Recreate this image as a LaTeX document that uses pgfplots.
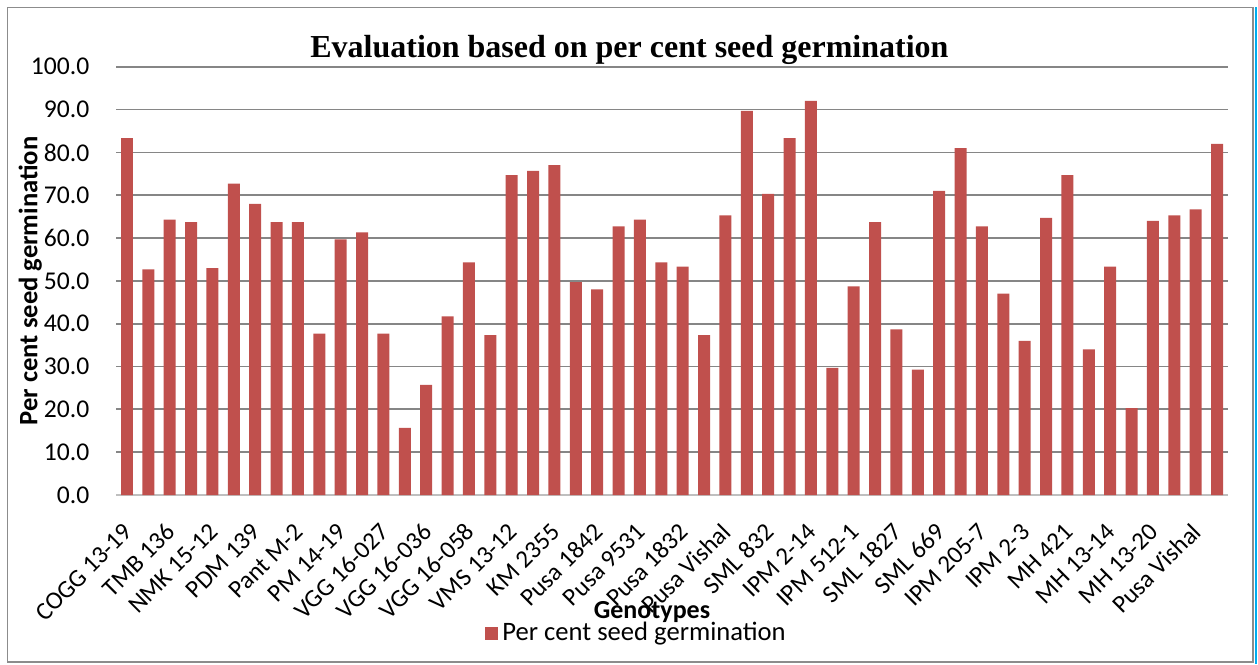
\documentclass[border=0pt]{standalone}
\usepackage{fontspec}
\setmainfont{Carlito}
\newfontfamily\titlefont{Liberation Serif}
\usepackage{pgfplots}
\pgfplotsset{compat=1.18}
\definecolor{barred}{HTML}{C0504D}
\definecolor{gridgray}{HTML}{868686}
\definecolor{framegray}{HTML}{8C8C8C}
\definecolor{axgray}{HTML}{BFBFBF}
\begin{document}
\begin{tikzpicture}
\useasboundingbox (0pt,0pt) rectangle (629pt,-332pt);
\draw[framegray, line width=0.8pt] (3.75pt,-3.75pt) rectangle (626.5pt,-331pt);
\draw[cyan, line width=1.2pt] (628pt,-3.5pt) -- (628pt,-332pt);
\begin{axis}[
  at={(58.15pt,-247.5pt)}, anchor=south west,
  scale only axis, width=555.7pt, height=214.15pt,
  xmin=-0.5, xmax=51.5, ymin=0, ymax=100,
  ybar, bar width=0.56, bar shift=0pt,
  ytick={0,10,...,100},
  yticklabel={\pgfmathprintnumber[fixed,fixed zerofill,precision=1]{\tick}},
  /pgf/number format/assume math mode=true,
  xtick={0,2,...,50},
  xticklabels={COGG 13-19,TMB 136,NMK 15-12,PDM 139,Pant M-2,PM 14-19,VGG 16-027,VGG 16-036,VGG 16-058,VMS 13-12,KM 2355,Pusa 1842,Pusa 9531,Pusa 1832,Pusa Vishal,SML 832,IPM 2-14,IPM 512-1,SML 1827,SML 669,IPM 205-7,IPM 2-3,MH 421,MH 13-14,MH 13-20,Pusa Vishal},
  x tick label style={yshift=-14pt, xshift=3pt, rotate=45, anchor=east, font=\fontsize{12.5}{14}\selectfont},
  y tick label style={anchor=east, xshift=-10pt, font=\fontsize{12.8}{14}\selectfont},
  major tick length=0pt,
  ymajorgrids, grid style={gridgray, line width=0.85pt},
  axis x line*=bottom, axis y line*=left,
  x axis line style={draw=axgray, line width=0.9pt, -},
  y axis line style={draw=none},
  title={\titlefont\bfseries Evaluation based on per cent seed germination},
  title style={at={(axis description cs:0.4617,1)}, anchor=center, yshift=2.5pt, font=\fontsize{16}{18}\selectfont},
  xlabel={Genotypes},
  xlabel style={at={(axis description cs:0.482,0)}, anchor=center, yshift=-58.5pt, font=\bfseries\fontsize{13}{15}\selectfont},
  ylabel={Per cent seed germination},
  ylabel style={at={(axis description cs:-0.0774,0.5)}, anchor=center, font=\bfseries\fontsize{13.3}{15}\selectfont},
  legend style={at={(axis description cs:0.469,0)}, anchor=center, yshift=-69pt, draw=none, fill=none, font=\fontsize{13.3}{15}\selectfont},
  legend image code/.code={\fill[barred] (0pt,-3.25pt) rectangle (6.5pt,3.25pt);},
]
\addplot[fill=barred, draw=none] coordinates {
(0,83.3) (1,52.7) (2,64.3) (3,63.7) (4,53.0) (5,72.7) (6,68.0) (7,63.7) (8,63.7) (9,37.7)
(10,59.7) (11,61.3) (12,37.7) (13,15.7) (14,25.7) (15,41.7) (16,54.3) (17,37.3) (18,74.7) (19,75.7)
(20,77.0) (21,49.7) (22,48.0) (23,62.7) (24,64.3) (25,54.3) (26,53.3) (27,37.3) (28,65.3) (29,89.7)
(30,70.3) (31,83.3) (32,92.0) (33,29.7) (34,48.7) (35,63.7) (36,38.7) (37,29.3) (38,71.0) (39,81.0)
(40,62.7) (41,47.0) (42,36.0) (43,64.7) (44,74.7) (45,34.0) (46,53.3) (47,20.3) (48,64.0) (49,65.3)
(50,66.7) (51,82.0)};
\addlegendentry{Per cent seed germination}
\end{axis}
\end{tikzpicture}
\end{document}
